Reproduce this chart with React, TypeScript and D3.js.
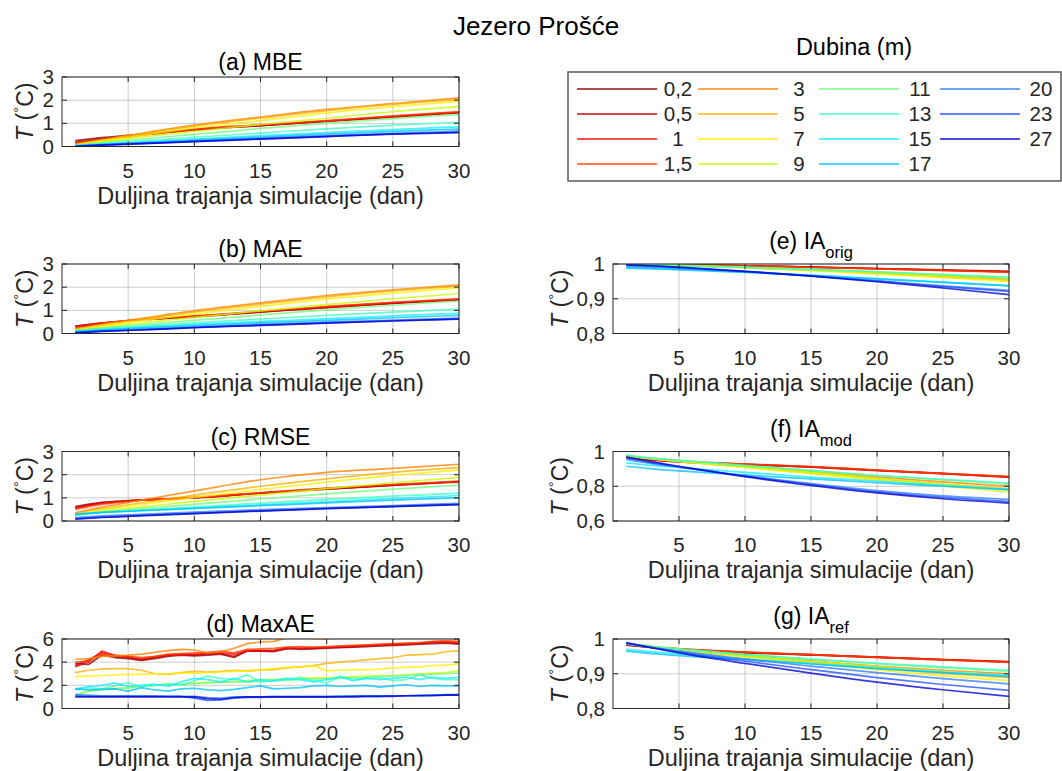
import React from "react";
import * as d3 from "d3";

// ---------------- DATA ----------------
const depthLabels = ["0,2", "0,5", "1", "1,5", "3", "5", "7", "9", "11", "13", "15", "17", "20", "23", "27"];
const depthColors = [
  "#8c0000", "#c00000", "#ff0000", "#ff4000", "#ff8000", "#ffb000", "#ffee00", "#c8ff00",
  "#70ff80", "#40ffc0", "#10f0ff", "#00c0ff", "#3080ff", "#2050ff", "#0000d0",
];

const daysSmooth = [1, 3, 5, 10, 15, 20, 25, 30];
const daysDaily = [1, 2, 3, 4, 5, 6, 7, 8, 9, 10, 11, 12, 13, 14, 15, 16, 17, 18, 19, 20, 21, 22, 23, 24, 25, 26, 27, 28, 29, 30];

const xTicks = [5, 10, 15, 20, 25, 30];

const mbe = [
  [0.25, 0.38, 0.48, 0.72, 0.9, 1.08, 1.28, 1.45],
  [0.18, 0.33, 0.45, 0.72, 0.9, 1.1, 1.28, 1.47],
  [0.15, 0.3, 0.43, 0.73, 0.92, 1.1, 1.3, 1.48],
  [0.12, 0.28, 0.42, 0.75, 0.94, 1.12, 1.32, 1.5],
  [0.1, 0.3, 0.48, 0.92, 1.27, 1.6, 1.85, 2.1],
  [0.08, 0.27, 0.45, 0.88, 1.22, 1.55, 1.82, 2.02],
  [0.07, 0.24, 0.4, 0.8, 1.12, 1.45, 1.72, 1.95],
  [0.06, 0.2, 0.34, 0.65, 0.95, 1.22, 1.5, 1.72],
  [0.05, 0.16, 0.27, 0.52, 0.78, 1.0, 1.2, 1.38],
  [0.04, 0.12, 0.2, 0.4, 0.58, 0.76, 0.92, 1.05],
  [0.03, 0.1, 0.16, 0.32, 0.47, 0.6, 0.73, 0.85],
  [0.03, 0.08, 0.14, 0.28, 0.41, 0.54, 0.65, 0.75],
  [0.02, 0.07, 0.12, 0.24, 0.36, 0.47, 0.57, 0.66],
  [0.02, 0.06, 0.1, 0.22, 0.33, 0.44, 0.54, 0.62],
  [0.01, 0.06, 0.1, 0.21, 0.32, 0.43, 0.53, 0.6],
];

const mae = [
  [0.32, 0.45, 0.55, 0.72, 0.92, 1.12, 1.3, 1.45],
  [0.3, 0.45, 0.56, 0.73, 0.93, 1.13, 1.31, 1.46],
  [0.28, 0.44, 0.56, 0.74, 0.94, 1.15, 1.33, 1.48],
  [0.25, 0.42, 0.55, 0.76, 0.96, 1.17, 1.35, 1.5],
  [0.2, 0.4, 0.57, 0.98, 1.32, 1.64, 1.88, 2.1],
  [0.17, 0.36, 0.53, 0.93, 1.27, 1.58, 1.84, 2.04],
  [0.15, 0.32, 0.48, 0.85, 1.17, 1.48, 1.74, 1.97],
  [0.13, 0.27, 0.4, 0.7, 0.98, 1.25, 1.5, 1.72],
  [0.12, 0.23, 0.33, 0.57, 0.8, 1.02, 1.22, 1.4],
  [0.11, 0.2, 0.28, 0.46, 0.62, 0.78, 0.92, 1.05],
  [0.09, 0.17, 0.24, 0.39, 0.52, 0.64, 0.76, 0.87],
  [0.08, 0.15, 0.21, 0.34, 0.46, 0.57, 0.68, 0.78],
  [0.05, 0.11, 0.16, 0.28, 0.39, 0.49, 0.58, 0.67],
  [0.04, 0.1, 0.14, 0.26, 0.36, 0.46, 0.55, 0.63],
  [0.03, 0.09, 0.13, 0.25, 0.35, 0.45, 0.54, 0.62],
];

const rmse = [
  [0.62, 0.8, 0.88, 1.0, 1.2, 1.38, 1.55, 1.7],
  [0.58, 0.78, 0.87, 1.0, 1.2, 1.38, 1.54, 1.68],
  [0.55, 0.76, 0.86, 1.01, 1.21, 1.4, 1.56, 1.7],
  [0.5, 0.72, 0.84, 1.02, 1.22, 1.42, 1.58, 1.72],
  [0.35, 0.6, 0.8, 1.3, 1.78, 2.1, 2.27, 2.45],
  [0.3, 0.52, 0.7, 1.12, 1.5, 1.82, 2.1, 2.3],
  [0.28, 0.48, 0.64, 1.02, 1.36, 1.68, 1.97, 2.2],
  [0.25, 0.42, 0.55, 0.85, 1.12, 1.4, 1.65, 1.88],
  [0.24, 0.38, 0.48, 0.72, 0.95, 1.17, 1.38, 1.55],
  [0.25, 0.36, 0.44, 0.6, 0.77, 0.93, 1.07, 1.2],
  [0.28, 0.37, 0.43, 0.57, 0.7, 0.84, 0.97, 1.1],
  [0.3, 0.37, 0.42, 0.54, 0.66, 0.78, 0.9, 1.0],
  [0.15, 0.22, 0.27, 0.38, 0.49, 0.58, 0.67, 0.76],
  [0.1, 0.17, 0.22, 0.33, 0.44, 0.54, 0.63, 0.72],
  [0.08, 0.15, 0.2, 0.32, 0.43, 0.53, 0.62, 0.71],
];

const maxae = [
  [3.9, 3.8, 4.6, 4.4, 4.3, 4.15, 4.3, 4.5, 4.6, 4.55, 4.6, 4.7, 4.4, 5.0, 4.95, 4.9, 5.2, 5.1, 5.15, 5.2, 5.25, 5.3, 5.35, 5.4, 5.45, 5.5, 5.55, 5.6, 5.65, 5.55],
  [3.7, 4.2, 4.8, 4.5, 4.4, 4.2, 4.4, 4.6, 4.7, 4.6, 4.7, 4.75, 4.5, 4.95, 5.0, 4.95, 5.15, 5.2, 5.2, 5.25, 5.3, 5.35, 5.4, 5.45, 5.5, 5.55, 5.6, 5.7, 5.7, 5.6],
  [3.6, 4.0, 4.95, 4.6, 4.45, 4.3, 4.45, 4.6, 4.65, 4.7, 4.75, 4.8, 4.7, 5.0, 5.0, 5.05, 5.25, 5.2, 5.25, 5.3, 5.35, 5.4, 5.45, 5.5, 5.55, 5.6, 5.65, 5.75, 5.8, 5.7],
  [4.0, 4.1, 4.7, 4.55, 4.5, 4.4, 4.5, 4.7, 4.75, 4.8, 4.85, 4.95, 4.8, 5.1, 5.15, 5.2, 5.3, 5.35, 5.3, 5.35, 5.4, 5.45, 5.5, 5.55, 5.6, 5.65, 5.7, 5.8, 5.85, 5.8],
  [4.25, 4.3, 4.5, 4.55, 4.6, 4.7, 4.85, 5.0, 5.1, 5.05, 4.8, 4.9, 5.2, 5.6, 5.75, 5.8, 6.1, 6.3, 6.05, 6.0, 6.3, 6.4, 6.5, 6.5, 6.6, 6.6, 6.7, 6.7, 6.8, 6.8],
  [3.1, 3.3, 3.4, 3.45, 3.45, 3.3, 3.0, 2.95, 3.1, 3.2, 3.15, 3.2, 3.3, 3.25, 3.3, 3.35, 3.5, 3.6, 3.7, 3.9, 4.0, 4.1, 4.2, 4.3, 4.4, 4.6, 4.65, 4.7, 4.9, 5.0],
  [2.75, 2.8, 2.85, 2.9, 2.95, 2.95, 3.0, 3.0, 3.05, 3.05, 3.1, 3.15, 3.2, 3.25, 3.35, 3.45, 3.55, 3.6, 3.7, 3.25, 3.3, 3.35, 3.35, 3.4, 3.5, 3.55, 3.6, 3.7, 3.75, 3.85],
  [1.1, 1.5, 1.7, 1.75, 1.75, 1.95, 2.0, 2.05, 2.1, 2.2, 2.25, 2.3, 2.35, 2.4, 2.5, 2.5, 2.55, 2.6, 2.65, 2.65, 2.7, 2.75, 2.8, 2.85, 2.85, 2.9, 3.0, 3.05, 3.1, 3.25],
  [1.2, 1.5, 1.6, 1.7, 1.8, 1.9, 2.0, 2.1, 2.1, 2.15, 2.2, 2.25, 2.3, 2.3, 2.35, 2.4, 2.45, 2.5, 2.55, 2.55, 2.6, 2.65, 2.7, 2.75, 2.8, 2.85, 2.9, 2.95, 3.0, 3.05],
  [1.6, 1.8, 1.7, 2.0, 2.2, 1.9, 2.0, 2.1, 2.0, 2.4, 2.8, 2.6, 2.5, 2.9, 2.3, 2.4, 2.5, 2.7, 2.4, 2.2, 2.8, 2.5, 2.6, 2.7, 2.4, 2.5, 2.9, 2.6, 2.5, 2.5],
  [1.7, 1.9, 2.0, 2.2, 1.9, 2.0, 2.1, 1.9, 2.3, 2.6, 2.5, 2.3, 2.6, 2.3, 2.5, 2.4, 2.6, 2.5, 2.3, 2.5, 2.7, 2.4, 2.6, 2.5, 2.6, 2.7, 2.5, 2.7, 2.6, 2.7],
  [1.7, 1.6, 1.65, 1.7, 1.5, 1.8, 1.6, 1.5, 1.7, 1.75, 1.6, 1.55, 1.65, 1.8, 1.95, 1.7, 1.75, 1.8, 1.95, 2.0, 1.9, 1.95, 2.0, 1.85, 1.95, 2.05, 1.9, 2.0, 1.95, 1.95],
  [1.2, 1.15, 1.1, 1.1, 1.1, 1.1, 1.1, 1.05, 1.05, 1.05, 0.95, 0.9, 1.0, 1.0, 1.0, 1.05, 1.05, 1.05, 1.05, 1.05, 1.05, 1.1, 1.1, 1.1, 1.1, 1.1, 1.15, 1.15, 1.2, 1.2],
  [1.1, 1.05, 1.05, 1.05, 1.05, 1.05, 1.05, 1.05, 1.05, 0.9, 0.7, 0.75, 0.9, 0.95, 0.95, 1.0, 1.0, 1.0, 1.0, 1.0, 1.05, 1.05, 1.05, 1.05, 1.1, 1.1, 1.1, 1.15, 1.15, 1.2],
  [1.0, 1.0, 1.0, 1.0, 1.0, 1.0, 1.0, 1.0, 1.0, 1.0, 0.85, 0.8, 0.95, 1.0, 1.0, 1.0, 1.0, 1.0, 1.0, 1.0, 1.0, 1.0, 1.05, 1.05, 1.05, 1.1, 1.1, 1.1, 1.15, 1.15],
];

const iaOrig = [
  [1.0, 0.999, 0.998, 0.995, 0.991, 0.987, 0.983, 0.979],
  [1.0, 0.999, 0.998, 0.995, 0.991, 0.987, 0.982, 0.978],
  [1.0, 0.999, 0.998, 0.995, 0.991, 0.986, 0.982, 0.977],
  [1.0, 0.999, 0.998, 0.995, 0.99, 0.986, 0.981, 0.976],
  [0.999, 0.998, 0.996, 0.99, 0.983, 0.975, 0.966, 0.957],
  [0.999, 0.998, 0.996, 0.99, 0.982, 0.973, 0.963, 0.953],
  [0.999, 0.998, 0.995, 0.989, 0.981, 0.971, 0.961, 0.95],
  [0.999, 0.998, 0.996, 0.99, 0.983, 0.975, 0.966, 0.958],
  [0.999, 0.998, 0.996, 0.991, 0.985, 0.978, 0.97, 0.962],
  [0.998, 0.997, 0.995, 0.99, 0.984, 0.977, 0.969, 0.96],
  [0.99, 0.988, 0.985, 0.977, 0.968, 0.958, 0.948, 0.938],
  [0.988, 0.986, 0.983, 0.976, 0.967, 0.957, 0.947, 0.937],
  [0.994, 0.991, 0.988, 0.978, 0.966, 0.952, 0.937, 0.924],
  [0.997, 0.994, 0.99, 0.979, 0.966, 0.951, 0.935, 0.921],
  [0.998, 0.995, 0.991, 0.979, 0.965, 0.949, 0.931, 0.912],
];

const iaMod = [
  [0.965, 0.95, 0.94, 0.925, 0.91, 0.89, 0.872, 0.853],
  [0.967, 0.952, 0.942, 0.926, 0.912, 0.892, 0.874, 0.855],
  [0.97, 0.955, 0.944, 0.927, 0.912, 0.892, 0.873, 0.853],
  [0.972, 0.957, 0.946, 0.928, 0.913, 0.893, 0.874, 0.855],
  [0.975, 0.958, 0.945, 0.915, 0.885, 0.853, 0.825, 0.8],
  [0.975, 0.957, 0.943, 0.91, 0.877, 0.843, 0.813, 0.786],
  [0.976, 0.957, 0.942, 0.908, 0.873, 0.835, 0.8, 0.768],
  [0.978, 0.96, 0.946, 0.913, 0.88, 0.845, 0.812, 0.78],
  [0.98, 0.962, 0.95, 0.92, 0.892, 0.862, 0.837, 0.812],
  [0.978, 0.96, 0.948, 0.918, 0.89, 0.862, 0.84, 0.818],
  [0.935, 0.92, 0.908, 0.88, 0.853, 0.83, 0.805, 0.78],
  [0.915, 0.9, 0.888, 0.865, 0.842, 0.82, 0.8, 0.78],
  [0.955, 0.93, 0.91, 0.86, 0.815, 0.775, 0.745, 0.725],
  [0.962, 0.935, 0.912, 0.858, 0.81, 0.768, 0.736, 0.712],
  [0.97, 0.94, 0.915, 0.855, 0.805, 0.762, 0.728, 0.703],
];

const iaRef = [
  [0.982, 0.975, 0.97, 0.96, 0.954, 0.947, 0.94, 0.934],
  [0.983, 0.976, 0.971, 0.961, 0.955, 0.948, 0.941, 0.935],
  [0.984, 0.977, 0.972, 0.962, 0.955, 0.948, 0.941, 0.934],
  [0.985, 0.978, 0.972, 0.962, 0.955, 0.947, 0.94, 0.933],
  [0.986, 0.977, 0.969, 0.952, 0.937, 0.922, 0.91, 0.9],
  [0.986, 0.977, 0.968, 0.95, 0.933, 0.916, 0.901, 0.889],
  [0.987, 0.977, 0.968, 0.948, 0.93, 0.911, 0.894, 0.88],
  [0.987, 0.978, 0.97, 0.952, 0.936, 0.92, 0.906, 0.893],
  [0.988, 0.979, 0.972, 0.956, 0.942, 0.929, 0.917, 0.907],
  [0.986, 0.977, 0.97, 0.955, 0.942, 0.93, 0.92, 0.91],
  [0.97, 0.963, 0.957, 0.943, 0.93, 0.917, 0.905, 0.895],
  [0.965, 0.958, 0.952, 0.94, 0.928, 0.915, 0.903, 0.892],
  [0.986, 0.975, 0.965, 0.942, 0.922, 0.903, 0.886, 0.871],
  [0.988, 0.975, 0.963, 0.936, 0.912, 0.889, 0.869, 0.852],
  [0.99, 0.974, 0.96, 0.93, 0.902, 0.876, 0.854, 0.835],
];

const ticks03 = [0, 1, 2, 3];
const ticks03Labels = ["0", "1", "2", "3"];
const ticks06 = [0, 2, 4, 6];
const ticks06Labels = ["0", "2", "4", "6"];
const ticks081 = [0.8, 0.9, 1];
const ticks081Labels = ["0,8", "0,9", "1"];
const ticks061 = [0.6, 0.8, 1];
const ticks061Labels = ["0,6", "0,8", "1"];

// ---------------- LAYOUT ----------------
const W = 1062;
const H = 771;
const FONT = "'Liberation Sans', Arial, Helvetica, sans-serif";
const colX = [
  [62, 459],
  [613, 1009],
];
const rowTop = [77, 264, 451.5, 639];
const plotH = 69.5;

type Panel = {
  id: string;
  title: string;
  sub?: string;
  data: number[][];
  days: number[];
  smooth: boolean;
  yDomain: [number, number];
  yTicks: number[];
  yTickLabels: string[];
  col: number;
  row: number;
};

const panels: Panel[] = [
  { id: "a", title: "(a) MBE", data: mbe, days: daysSmooth, smooth: true, yDomain: [0, 3], yTicks: ticks03, yTickLabels: ticks03Labels, col: 0, row: 0 },
  { id: "b", title: "(b) MAE", data: mae, days: daysSmooth, smooth: true, yDomain: [0, 3], yTicks: ticks03, yTickLabels: ticks03Labels, col: 0, row: 1 },
  { id: "c", title: "(c) RMSE", data: rmse, days: daysSmooth, smooth: true, yDomain: [0, 3], yTicks: ticks03, yTickLabels: ticks03Labels, col: 0, row: 2 },
  { id: "d", title: "(d) MaxAE", data: maxae, days: daysDaily, smooth: false, yDomain: [0, 6], yTicks: ticks06, yTickLabels: ticks06Labels, col: 0, row: 3 },
  { id: "e", title: "(e) IA", sub: "orig", data: iaOrig, days: daysSmooth, smooth: true, yDomain: [0.8, 1], yTicks: ticks081, yTickLabels: ticks081Labels, col: 1, row: 1 },
  { id: "f", title: "(f) IA", sub: "mod", data: iaMod, days: daysSmooth, smooth: true, yDomain: [0.6, 1], yTicks: ticks061, yTickLabels: ticks061Labels, col: 1, row: 2 },
  { id: "g", title: "(g) IA", sub: "ref", data: iaRef, days: daysSmooth, smooth: true, yDomain: [0.8, 1], yTicks: ticks081, yTickLabels: ticks081Labels, col: 1, row: 3 },
];

const AXIS = "#262626";
const LINE_OPACITY = 0.78;
const LINE_W = 1.7;

function PanelView({ p }: { p: Panel }) {
  const [x0, x1] = colX[p.col];
  const y0 = rowTop[p.row];
  const y1 = y0 + plotH;
  const x = d3.scaleLinear().domain([0, 30]).range([x0, x1]);
  const y = d3.scaleLinear().domain(p.yDomain).range([y1, y0]);
  const line = d3
    .line<number>()
    .x((_, i) => x(p.days[i]))
    .y((v) => y(v))
    .curve(p.smooth ? d3.curveMonotoneX : d3.curveLinear);
  const clipId = `clip-${p.id}`;
  const cx = (x0 + x1) / 2;
  const cy = (y0 + y1) / 2;
  const labelGap = p.col === 0 ? 29 : 45;
  const tickLen = 5;
  return (
    <g>
      <defs>
        <clipPath id={clipId}>
          <rect x={x0} y={y0} width={x1 - x0} height={y1 - y0} />
        </clipPath>
      </defs>
      {xTicks.map((t) => (
        <line key={"gx" + t} x1={x(t)} x2={x(t)} y1={y0} y2={y1} stroke="#000" strokeOpacity={0.2} strokeWidth={1} />
      ))}
      {p.yTicks.map((t) => (
        <line key={"gy" + t} x1={x0} x2={x1} y1={y(t)} y2={y(t)} stroke="#000" strokeOpacity={0.2} strokeWidth={1} />
      ))}
      <g clipPath={`url(#${clipId})`}>
        {p.data.map((series, i) => (
          <path
            key={i}
            d={line(series) || ""}
            fill="none"
            stroke={depthColors[i]}
            strokeOpacity={LINE_OPACITY}
            strokeWidth={LINE_W}
            strokeLinejoin="round"
          />
        ))}
      </g>
      <rect x={x0} y={y0} width={x1 - x0} height={y1 - y0} fill="none" stroke={AXIS} strokeWidth={1} />
      {xTicks.map((t) => (
        <g key={"tx" + t}>
          <line x1={x(t)} x2={x(t)} y1={y1} y2={y1 - tickLen} stroke={AXIS} />
          <line x1={x(t)} x2={x(t)} y1={y0} y2={y0 + tickLen} stroke={AXIS} />
          <text x={x(t)} y={y1 + 31} textAnchor="middle" fontSize={20.5} fill={AXIS} fontFamily={FONT}>
            {t}
          </text>
        </g>
      ))}
      {p.yTicks.map((t, i) => (
        <g key={"ty" + t}>
          <line x1={x0} x2={x0 + tickLen} y1={y(t)} y2={y(t)} stroke={AXIS} />
          <line x1={x1} x2={x1 - tickLen} y1={y(t)} y2={y(t)} stroke={AXIS} />
          <text x={x0 - 8} y={y(t) + 7} textAnchor="end" fontSize={20.5} fill={AXIS} fontFamily={FONT}>
            {p.yTickLabels[i]}
          </text>
        </g>
      ))}
      <text x={cx} y={y1 + 57} textAnchor="middle" fontSize={23.5} fill={AXIS} fontFamily={FONT}>
        Duljina trajanja simulacije (dan)
      </text>
      <text
        transform={`translate(${x0 - labelGap},${cy}) rotate(-90)`}
        textAnchor="middle"
        fontSize={23}
        fill={AXIS}
        fontFamily={FONT}
      >
        <tspan fontStyle="italic">T</tspan>
        <tspan> (</tspan>
        <tspan dy={-9} fontSize={15}>°</tspan>
        <tspan dy={9}>C)</tspan>
      </text>
      {p.sub ? (
        <text x={cx} y={y0 - 15} textAnchor="middle" fontSize={23} fill="#000" fontFamily={FONT}>
          {p.title}
          <tspan dy={9} fontSize={16.5}>
            {p.sub}
          </tspan>
        </text>
      ) : (
        <text x={cx} y={y0 - 7} textAnchor="middle" fontSize={23} fill="#000" fontFamily={FONT}>
          {p.title}
        </text>
      )}
    </g>
  );
}

function Legend() {
  const boxX = 568;
  const boxY = 72;
  const boxW = 493;
  const boxH = 109;
  const rowY0 = 89;
  const rowStep = 25;
  const colStart0 = 577;
  const colStep = 121;
  const lineLen = 80;
  return (
    <g>
      <text x={854} y={55} textAnchor="middle" fontSize={23.5} fill="#000" fontFamily={FONT}>
        Dubina (m)
      </text>
      <rect x={boxX} y={boxY} width={boxW} height={boxH} fill="#fff" stroke="#5a5a5a" strokeWidth={1.5} />
      {depthLabels.map((lab, i) => {
        const c = Math.floor(i / 4);
        const r = i % 4;
        const lx = colStart0 + c * colStep;
        const ly = rowY0 + r * rowStep;
        return (
          <g key={lab}>
            <line x1={lx} x2={lx + lineLen} y1={ly} y2={ly} stroke={depthColors[i]} strokeOpacity={0.7} strokeWidth={2} />
            <text x={lx + lineLen + 21} y={ly + 7} textAnchor="middle" fontSize={20.5} fill={AXIS} fontFamily={FONT}>
              {lab}
            </text>
          </g>
        );
      })}
    </g>
  );
}

export default function App() {
  return (
    <svg
      width={W}
      height={H}
      viewBox={`0 0 ${W} ${H}`}
      style={{ position: "absolute", left: 0, top: 0, background: "#fff" }}
    >
      <rect x={0} y={0} width={W} height={H} fill="#fff" />
      <text x={536} y={35} textAnchor="middle" fontSize={26} fill="#000" fontFamily={FONT}>
        Jezero Prošće
      </text>
      {panels.map((p) => (
        <PanelView key={p.id} p={p} />
      ))}
      <Legend />
    </svg>
  );
}
